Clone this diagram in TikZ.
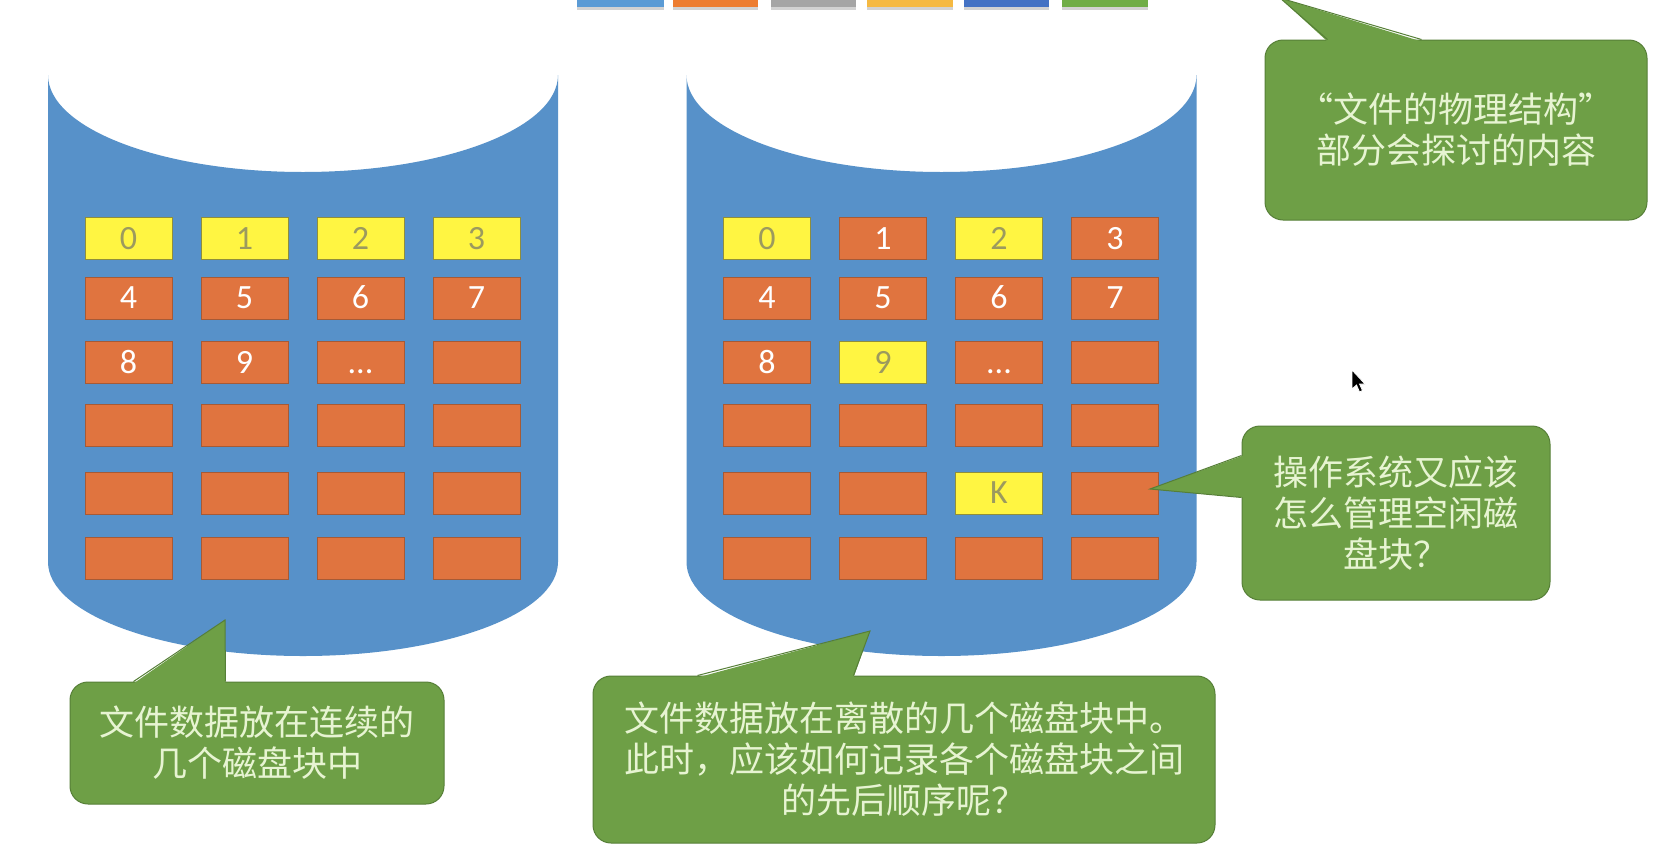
\documentclass[tikz,border=0pt]{standalone}
\usepackage{fontspec}
\setmainfont{Carlito}
\newfontfamily\cjk{Noto Sans CJK SC}
\usetikzlibrary{positioning,shadows}

\definecolor{diskblue}{HTML}{5791C9}
\definecolor{blkorange}{HTML}{E0743F}
\definecolor{blkorangeline}{HTML}{A65A36}
\definecolor{blkyellow}{HTML}{FFF542}
\definecolor{blkyellowline}{HTML}{8F8E3C}
\definecolor{blkyellowtext}{HTML}{9C9A5E}
\definecolor{notegreen}{HTML}{6E9F46}
\definecolor{notegreenline}{HTML}{567F37}
\definecolor{notetext}{HTML}{E7F4D2}
\definecolor{stripblue}{HTML}{5B9BD5}
\definecolor{striporange}{HTML}{ED7D31}
\definecolor{stripgray}{HTML}{A5A5A5}
\definecolor{stripgold}{HTML}{F5B942}
\definecolor{stripnavy}{HTML}{4472C4}
\definecolor{stripgreen}{HTML}{70AD47}

\tikzstyle{oblock} = [rectangle, draw=blkorangeline, fill=blkorange, line width=0.8pt, minimum width=87pt, minimum height=42pt, inner sep=0pt, text height=21.5pt, text depth=0pt, text=white, font=\fontsize{34pt}{40pt}\selectfont]
\tikzstyle{yblock} = [oblock, draw=blkyellowline, fill=blkyellow, text=blkyellowtext]
\tikzstyle{note} = [rectangle, draw=notegreenline, fill=notegreen, line width=1pt, rounded corners=18pt, inner sep=0pt, align=center, text=notetext, font=\cjk\fontsize{35pt}{41pt}\selectfont]
\tikzstyle{tipline} = [draw=notegreenline, line width=1pt]
\tikzstyle{disk} = [fill=diskblue]
\tikzstyle{strip} = [drop shadow={shadow xshift=0pt, shadow yshift=-3pt, opacity=0.35}]

\begin{document}
\begin{tikzpicture}[x=1pt, y=-1pt, node distance=116pt]
    \useasboundingbox (0,0) rectangle (1658,857);
    \clip (0,0) rectangle (1658,857);
    \fill [white] (0,0) rectangle (1658,857);

    % colour bar at the top edge
    \fill [strip, stripblue] (577,-10) rectangle (664,7);
    \fill [strip, striporange] (673,-10) rectangle (758,7);
    \fill [strip, stripgray] (771,-10) rectangle (856,7);
    \fill [strip, stripgold] (867,-10) rectangle (953,7);
    \fill [strip, stripnavy] (964,-10) rectangle (1049,7);
    \fill [strip, stripgreen] (1062,-10) rectangle (1148,7);

    % the two disks
    \fill [disk] (48,75) -- (48,562) arc [start angle=180, end angle=0, x radius=255, y radius=94] -- (558,75) arc [start angle=0, end angle=180, x radius=255, y radius=97] -- cycle;
    \fill [disk] (686.5,75) -- (686.5,562) arc [start angle=180, end angle=0, x radius=255, y radius=94] -- (1196.5,75) arc [start angle=0, end angle=180, x radius=255, y radius=97] -- cycle;

    % contiguous blocks
    \node (con0) [yblock] at (128.5,238.5) {0};
    \node (con1) [yblock, right of = con0] {1};
    \node (con2) [yblock, right of = con1] {2};
    \node (con3) [yblock, right of = con2] {3};
    \node (con4) [oblock] at (128.5,298) {4};
    \node (con5) [oblock, right of = con4] {5};
    \node (con6) [oblock, right of = con5] {6};
    \node (con7) [oblock, right of = con6] {7};
    \node (con8) [oblock] at (128.5,362.5) {8};
    \node (con9) [oblock, right of = con8] {9};
    \node (con10) [oblock, right of = con9] {...};
    \node (con11) [oblock, right of = con10] {};
    \node (con12) [oblock] at (128.5,425.5) {};
    \node (con13) [oblock, right of = con12] {};
    \node (con14) [oblock, right of = con13] {};
    \node (con15) [oblock, right of = con14] {};
    \node (con16) [oblock] at (128.5,493) {};
    \node (con17) [oblock, right of = con16] {};
    \node (con18) [oblock, right of = con17] {};
    \node (con19) [oblock, right of = con18] {};
    \node (con20) [oblock] at (128.5,558) {};
    \node (con21) [oblock, right of = con20] {};
    \node (con22) [oblock, right of = con21] {};
    \node (con23) [oblock, right of = con22] {};

    % scattered blocks
    \node (dis0) [yblock] at (767,238.5) {0};
    \node (dis1) [oblock, right of = dis0] {1};
    \node (dis2) [yblock, right of = dis1] {2};
    \node (dis3) [oblock, right of = dis2] {3};
    \node (dis4) [oblock] at (767,298) {4};
    \node (dis5) [oblock, right of = dis4] {5};
    \node (dis6) [oblock, right of = dis5] {6};
    \node (dis7) [oblock, right of = dis6] {7};
    \node (dis8) [oblock] at (767,362.5) {8};
    \node (dis9) [yblock, right of = dis8] {9};
    \node (dis10) [oblock, right of = dis9] {...};
    \node (dis11) [oblock, right of = dis10] {};
    \node (dis12) [oblock] at (767,425.5) {};
    \node (dis13) [oblock, right of = dis12] {};
    \node (dis14) [oblock, right of = dis13] {};
    \node (dis15) [oblock, right of = dis14] {};
    \node (dis16) [oblock] at (767,493) {};
    \node (dis17) [oblock, right of = dis16] {};
    \node (dis18) [yblock, right of = dis17] {K};
    \node (dis19) [oblock, right of = dis18] {};
    \node (dis20) [oblock] at (767,558) {};
    \node (dis21) [oblock, right of = dis20] {};
    \node (dis22) [oblock, right of = dis21] {};
    \node (dis23) [oblock, right of = dis22] {};

    % callouts
    \node (note1) [note, minimum width=374pt, minimum height=122pt] at (257,743) {文件数据放在连续的\\几个磁盘块中};
    \node (note2) [note, minimum width=622pt, minimum height=167pt] at (904,759.5) {文件数据放在离散的几个磁盘块中。\\此时，应该如何记录各个磁盘块之间\\的先后顺序呢？};
    \node (note3) [note, minimum width=308pt, minimum height=174pt] at (1396,513) {操作系统又应该\\怎么管理空闲磁\\盘块？};
    \node (note4) [note, minimum width=382pt, minimum height=180pt] at (1456,130) {“文件的物理结构”\\部分会探讨的内容};
    \coordinate (tip1) at (225,620);
    \coordinate (tip2) at (870,631);
    \coordinate (tip3) at (1150,489);
    \coordinate (tip4) at (1280,-2);

    \fill [notegreen] ([xshift=64pt, yshift=-2pt]note1.north west) -- (tip1) -- ([xshift=156pt, yshift=-2pt]note1.north west) -- cycle;
    \draw [tipline] ([xshift=64pt]note1.north west) -- (tip1) -- ([xshift=156pt]note1.north west);
    \fill [notegreen] ([xshift=105pt, yshift=-2pt]note2.north west) -- (tip2) -- ([xshift=261pt, yshift=-2pt]note2.north west) -- cycle;
    \draw [tipline] ([xshift=105pt]note2.north west) -- (tip2) -- ([xshift=261pt]note2.north west);
    \fill [notegreen] ([xshift=2pt, yshift=-30pt]note3.north west) -- (tip3) -- ([xshift=2pt, yshift=-72pt]note3.north west) -- cycle;
    \draw [tipline] ([yshift=-30pt]note3.north west) -- (tip3) -- ([yshift=-72pt]note3.north west);
    \fill [notegreen] ([xshift=63pt, yshift=-2pt]note4.north west) -- (tip4) -- ([xshift=157pt, yshift=-2pt]note4.north west) -- cycle;
    \draw [tipline] ([xshift=63pt]note4.north west) -- (tip4) -- ([xshift=157pt]note4.north west);

    % mouse pointer
    \fill [black, draw=white, line width=0.8pt] (1352,370) -- (1352,389) -- (1356.5,385) -- (1359.5,392) -- (1362.5,390.5) -- (1359.5,384) -- (1365,384) -- cycle;
\end{tikzpicture}
\end{document}
